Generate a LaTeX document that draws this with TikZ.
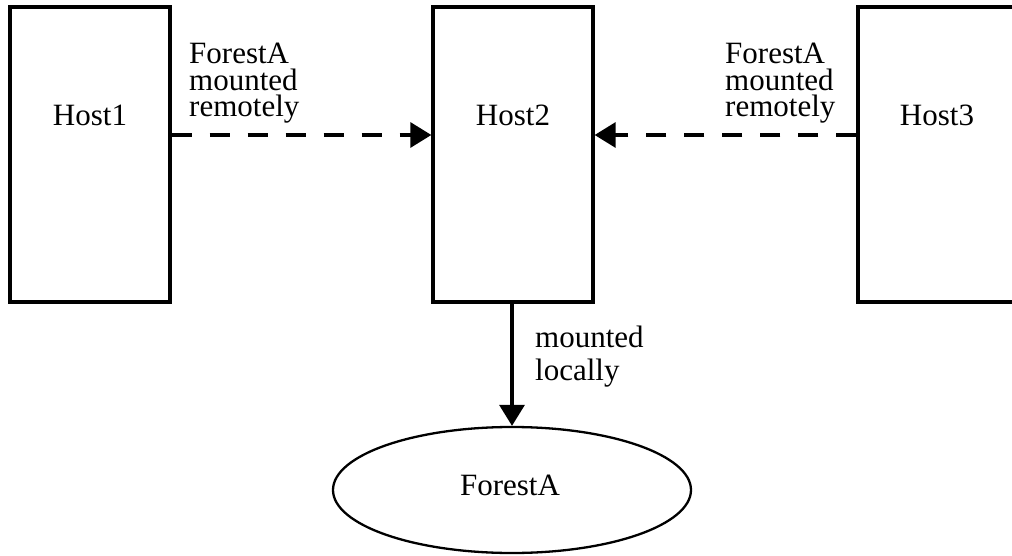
\documentclass[tikz,border=0pt]{standalone}
\usepackage{fontspec}
\setmainfont{Liberation Serif}
\usetikzlibrary{arrows.meta,shapes.geometric}
\begin{document}
\begin{tikzpicture}[x=1pt,y=-1pt,
  hostbox/.style={draw,line width=3.3pt,minimum width=160pt,minimum height=295pt,inner sep=0pt},
  txt/.style={font=\fontsize{31}{27}\selectfont,inner sep=0pt,anchor=base},
  lbl/.style={font=\fontsize{31}{26.5}\selectfont,align=left,inner sep=0pt,anchor=base west},
  lbltall/.style={font=\fontsize{31}{33}\selectfont,align=left,inner sep=0pt,anchor=base west},
  conn/.style={line width=3.2pt,-{Triangle[length=21pt,width=25pt]}},
  remote/.style={conn,dash pattern=on 20pt off 18pt},
  store/.style={draw,ellipse,line width=2.3pt,minimum width=358pt,minimum height=126pt,inner sep=0pt}]
\useasboundingbox (0,0) rectangle (1012,556);
\clip (0,0) rectangle (1012,556);
\node[hostbox] (h1) at (90,154.5) {};
\node[hostbox] (h2) at (513,154.5) {};
\node[hostbox] (h3) at (938,154.5) {};
\node[txt] (t1) at (90,126) {Host1};
\node[txt] (t2) at (513,126) {Host2};
\node[txt] (t3) at (937,126) {Host3};
\node[store] (f) at (512,490) {};
\node[txt] (tf) at (510,495) {ForestA};
\node[lbl] (l1) at (189,117) {ForestA\\mounted\\remotely};
\node[lbl] (l2) at (725,117) {ForestA\\mounted\\remotely};
\node[lbltall] (l3) at (535,380) {mounted\\locally};
\draw[remote] ([yshift=19.5pt]h1.east) -- ([yshift=19.5pt]h2.west);
\draw[remote] ([yshift=19.5pt]h3.west) -- ([yshift=19.5pt]h2.east);
\draw[conn] ([xshift=-1pt]h2.south) -- ([xshift=-1pt]h2.south |- f.north);
\end{tikzpicture}
\end{document}
